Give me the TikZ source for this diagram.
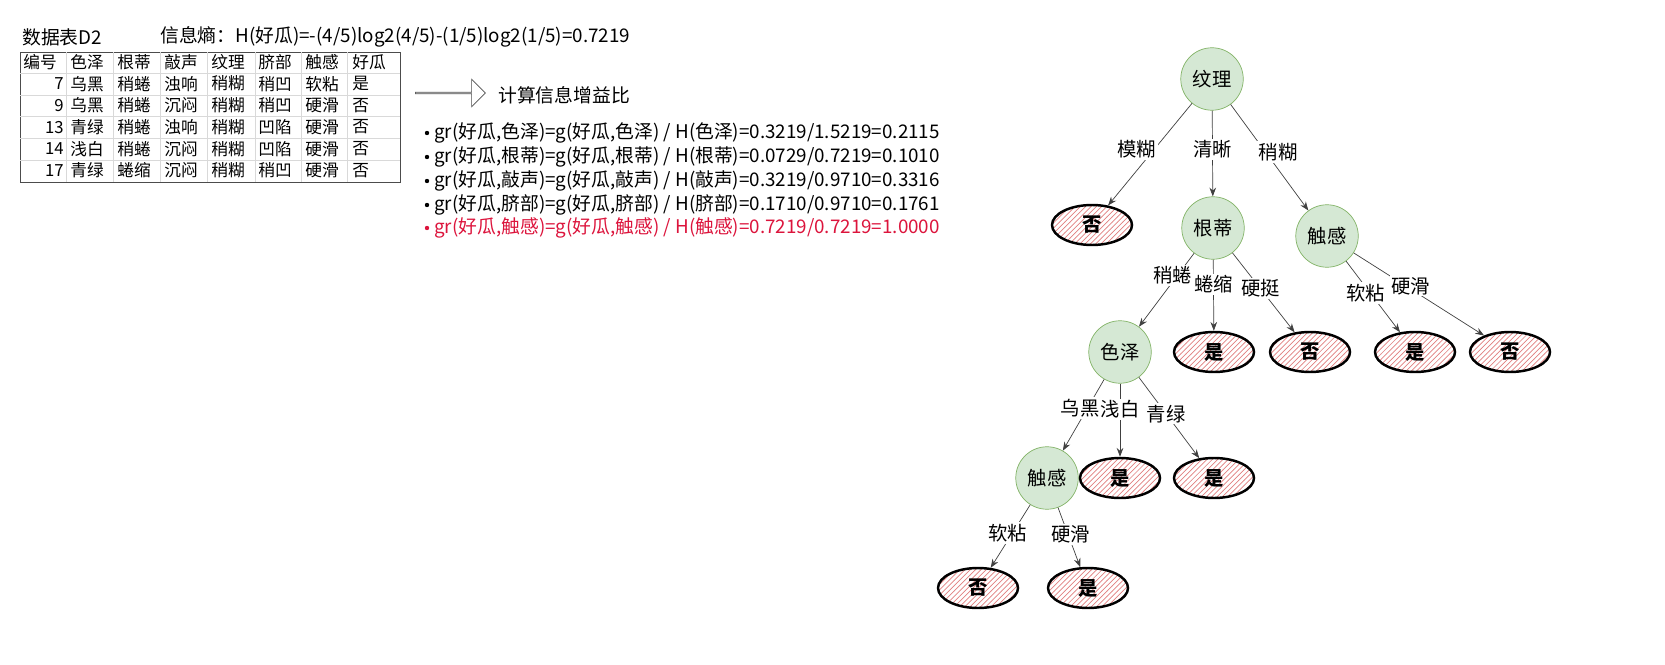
\documentclass[tikz,border=0pt]{standalone}
\usepackage{fontspec}
\setmainfont{Noto Sans CJK SC}
\usetikzlibrary{arrows.meta,shapes.geometric,shapes.arrows,patterns}
\definecolor{nodegreen}{HTML}{D5E8D4}
\definecolor{nodeedge}{HTML}{82B366}
\definecolor{hatch}{HTML}{E07F7F}
\definecolor{hlred}{HTML}{DC143C}
\tikzset{
  attr/.style={circle, fill=nodegreen, draw=nodeedge, minimum size=1.25cm, inner sep=0pt, font=\fontsize{11}{11}\selectfont},
  leaf/.style={ellipse, draw=black, line width=1.4pt, pattern=north east lines, pattern color=hatch, minimum width=1.6cm, minimum height=0.8cm, inner sep=0pt, font=\bfseries\fontsize{11}{11}\selectfont},
  edge/.style={-{Stealth[length=5pt]}, draw=black!75},
  elabel/.style={fill=white, inner sep=1pt, font=\fontsize{11}{11}\selectfont},
  cell/.style={font=\fontsize{9.5}{9.5}\selectfont, anchor=west, inner sep=0pt},
  info/.style={font=\fontsize{10.7}{10.7}\selectfont, anchor=west, inner sep=0pt}
}
\begin{document}
\begin{tikzpicture}[x=0.02cm, y=-0.02cm]
\useasboundingbox (0,0) rectangle (1665,665);

% Table
\node[info] (title) at (22,37) {数据表D2};
\node[info] (entropy) at (160,37) {信息熵：H(好瓜)=-(4/5)log2(4/5)-(1/5)log2(1/5)=0.7219};
\draw[black!70] (20,52) rectangle (400,182);
\foreach \x in {66,113,160,207,255,301,347}
  \draw[black!15] (\x,52) -- (\x,182);
\foreach \y in {73,95,116,138,160}
  \draw[black!15] (20,\y) -- (400,\y);
\foreach \t [count=\i from 0] in {编号,色泽,根蒂,敲声,纹理,脐部,触感,好瓜}
  \node[cell] at ({23+\i*47},62) {\t};
\foreach \n/\a/\b/\c/\d/\e/\f/\g [count=\r from 1] in {
  7/乌黑/稍蜷/浊响/稍糊/稍凹/软粘/是,
  9/乌黑/稍蜷/沉闷/稍糊/稍凹/硬滑/否,
  13/青绿/稍蜷/浊响/稍糊/凹陷/硬滑/否,
  14/浅白/稍蜷/沉闷/稍糊/凹陷/硬滑/否,
  17/青绿/蜷缩/沉闷/稍糊/稍凹/硬滑/否}{
  \node[cell, anchor=east] at (64,{62+\r*21.7}) {\n};
  \foreach \t [count=\i from 1] in {\a,\b,\c,\d,\e,\f,\g}
    \node[cell] at ({23+\i*47},{62+\r*21.7}) {\t};
}

% Gain ratio
\node[single arrow, draw=black!70, minimum height=1.4cm, minimum width=0.55cm, single arrow head extend=0.12cm, inner sep=0pt] (bigarrow) at (450,93) {};
\node[info] (calc) at (498,95) {计算信息增益比};
\foreach \s/\y in {色泽/133,根蒂/157,敲声/181,脐部/205}
  \fill (427,\y) circle (2.2);
\node[info] at (434,133) {gr(好瓜,色泽)=g(好瓜,色泽) / H(色泽)=0.3219/1.5219=0.2115};
\node[info] at (434,157) {gr(好瓜,根蒂)=g(好瓜,根蒂) / H(根蒂)=0.0729/0.7219=0.1010};
\node[info] at (434,181) {gr(好瓜,敲声)=g(好瓜,敲声) / H(敲声)=0.3219/0.9710=0.3316};
\node[info] at (434,205) {gr(好瓜,脐部)=g(好瓜,脐部) / H(脐部)=0.1710/0.9710=0.1761};
\fill[hlred] (427,228) circle (2.2);
\node[info, text=hlred] at (434,228) {gr(好瓜,触感)=g(好瓜,触感) / H(触感)=0.7219/0.7219=1.0000};

% Tree
\node[attr] (texture) at (1212,79) {纹理};
\node[leaf] (no1) at (1092,225) {否};
\node[attr] (root) at (1213,228) {根蒂};
\node[attr] (touch1) at (1327,236) {触感};
\node[attr] (color) at (1120,352) {色泽};
\node[leaf] (yes1) at (1214,352) {是};
\node[leaf] (no2) at (1310,352) {否};
\node[leaf] (yes2) at (1415,352) {是};
\node[leaf] (no3) at (1510,352) {否};
\node[attr] (touch2) at (1047,478) {触感};
\node[leaf] (yes3) at (1120,478) {是};
\node[leaf] (yes4) at (1214,478) {是};
\node[leaf] (no4) at (978,588) {否};
\node[leaf] (yes5) at (1088,588) {是};

\draw[edge] (texture) -- node[elabel, pos=0.45, xshift=-0.35cm] {模糊} (no1);
\draw[edge] (texture) -- node[elabel, pos=0.45] {清晰} (root);
\draw[edge] (texture) -- node[elabel, pos=0.45, xshift=0.25cm] {稍糊} (touch1);
\draw[edge] (root) -- node[elabel, pos=0.3, xshift=-0.1cm] {稍蜷} (color);
\draw[edge] (root) -- node[elabel, pos=0.35] {蜷缩} (yes1);
\draw[edge] (root) -- node[elabel, pos=0.45] {硬挺} (no2);
\draw[edge] (touch1) -- node[elabel, pos=0.45, xshift=-0.1cm] {软粘} (yes2);
\draw[edge] (touch1) -- node[elabel, pos=0.4, xshift=0.1cm] {硬滑} (no3);
\draw[edge] (color) -- node[elabel, pos=0.4, xshift=-0.15cm] {乌黑} (touch2);
\draw[edge] (color) -- node[elabel, pos=0.35] {浅白} (yes3);
\draw[edge] (color) -- node[elabel, pos=0.45] {青绿} (yes4);
\draw[edge] (touch2) -- node[elabel, pos=0.45, xshift=-0.1cm] {软粘} (no4);
\draw[edge] (touch2) -- node[elabel, pos=0.45, xshift=0.05cm] {硬滑} (yes5);
\end{tikzpicture}
\end{document}
